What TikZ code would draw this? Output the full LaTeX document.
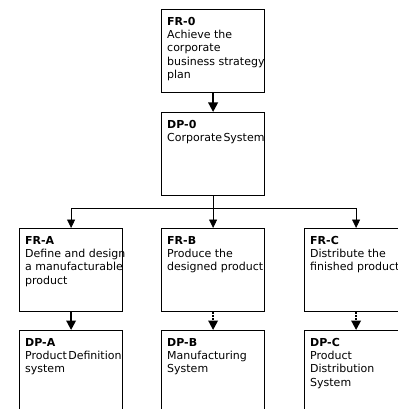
\documentclass[tikz,border=0pt]{standalone}
\usepackage{fontspec}
\setmainfont{DejaVu Sans}
\usetikzlibrary{arrows.meta}
\begin{document}
\begin{tikzpicture}[x=1pt,y=-1pt,
  box/.style={draw, line width=1.2pt, minimum width=103pt, minimum height=83pt,
    inner sep=0pt, anchor=north west},
  txt/.style={anchor=north west, inner sep=0pt, align=left,
    font=\fontsize{11}{13.2}\selectfont},
  link/.style={line width=2pt, -{Triangle[width=9.5pt,length=9.5pt]}},
  dotlink/.style={link, dash pattern=on 1.5pt off 1.5pt},
  branch/.style={line width=0.8pt, -{Triangle[width=8pt,length=8.5pt]}}]
\useasboundingbox (0,0) rectangle (398,409);
\clip (0,0) rectangle (398,409);

% functional requirements / design parameters
\node[box] (fr0) at (161,9)   {};
\node[box] (dp0) at (161,112) {};
\node[box] (fra) at (19,228)  {};
\node[box] (frb) at (161,228) {};
\node[box] (frc) at (304,228) {};
\node[box] (dpa) at (19,330)  {};
\node[box] (dpb) at (161,330) {};
\node[box] (dpc) at (304,330) {};

% box texts
\node[txt] (fr0t) at ([xshift=6pt,yshift=-8.2pt]fr0.north west)
  {\textbf{FR-0}\\Achieve the\\corporate\\business strategy\\plan};
\node[txt] (dp0t) at ([xshift=6pt,yshift=-8.2pt]dp0.north west)
  {\textbf{DP-0}\\Corporate\hspace{0.12em}System};
\node[txt] (frat) at ([xshift=6pt,yshift=-8.2pt]fra.north west)
  {\textbf{FR-A}\\Define and design\\a manufacturable\\product};
\node[txt] (frbt) at ([xshift=6pt,yshift=-8.2pt]frb.north west)
  {\textbf{FR-B}\\Produce the\\designed product};
\node[txt] (frct) at ([xshift=6pt,yshift=-8.2pt]frc.north west)
  {\textbf{FR-C}\\Distribute the\\finished product};
\node[txt] (dpat) at ([xshift=6pt,yshift=-8.2pt]dpa.north west)
  {\textbf{DP-A}\\Product\hspace{0.12em}Definition\\system};
\node[txt] (dpbt) at ([xshift=6pt,yshift=-8.2pt]dpb.north west)
  {\textbf{DP-B}\\Manufacturing\\System};
\node[txt] (dpct) at ([xshift=6pt,yshift=-8.2pt]dpc.north west)
  {\textbf{DP-C}\\Product\\Distribution\\System};

% connectors
\draw[link] (fr0.south) -- (dp0.north);
\draw[branch] (dp0.south) -- ++(0,12) -| (fra.north);
\draw[branch] (dp0.south) -- (frb.north);
\draw[branch] (dp0.south) -- ++(0,12) -| (frc.north);
\draw[link] (fra.south) -- (dpa.north);
\draw[dotlink] (frb.south) -- (dpb.north);
\draw[dotlink] (frc.south) -- (dpc.north);
\end{tikzpicture}
\end{document}
